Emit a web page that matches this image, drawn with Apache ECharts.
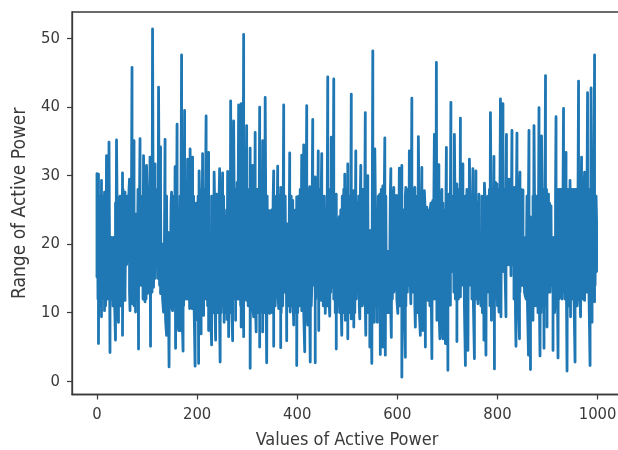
<!DOCTYPE html>
<html><head><meta charset="utf-8">
<style>html,body{margin:0;padding:0;background:#fff}#c{width:618px;height:450px}</style>
<script src="https://cdn.jsdelivr.net/npm/echarts@6/dist/echarts.min.js"></script>
</head><body><div id="c"></div>
<script>
const xTicks=[0,200,400,600,800,1000];
const yTicks=[0,10,20,30,40,50];
const xTitle='Values of Active Power';
const yTitle='Range of Active Power';
const peaksA=[[0,30.3],[3,30.2],[9,29.3],[15,27.6],[19,32.9],[24,34.9],[29,21],[33,21],[39,35.2],[44,26.8],[51,30.4],[56,27.6],[65,29.5],[70,45.8],[74,35.1],[79,24.4],[86,35.4],[93,32.9],[99,31.5],[106,32.7],[111,51.4],[116,31.7],[123,42.9],[127,34.2],[131,20],[136,35.3],[143,21.7],[149,27.6],[156,31.3],[160,37.5],[164,21.5],[169,47.6],[175,39.5],[181,32.4],[186,33.9],[191,32.7],[198,26],[204,30.7],[211,33.2],[218,38.7],[223,33.4],[227,17],[234,30.5],[239,27.3],[245,31],[251,30.4],[257,24],[261,30.6],[267,40.9],[273,38],[277,14],[283,40.3],[288,40.5],[293,50.6],[299,37.3],[306,34],[311,31.5],[316,36.3],[321,28],[325,40]];
const troughsA=[[0,15.2],[3,5.5],[9,9.4],[15,10.3],[18,12.3],[26,4.2],[33,11.8],[37,6],[43,8.6],[46,11.3],[51,6.7],[56,11.8],[61,18.8],[66,10.3],[71,11.3],[77,10.1],[83,4.7],[89,15.2],[96,11.6],[101,12.8],[107,5.1],[113,13.7],[119,17],[127,12.8],[133,10.1],[139,6.7],[144,2.1],[151,10.3],[157,4.8],[163,7.4],[167,7.4],[172,4.4],[178,11.8],[185,10.6],[190,10.6],[196,2.2],[203,2.6],[208,6.9],[213,9.6],[218,12.8],[223,7.4],[229,5.3],[237,6],[246,2.8],[254,8.6],[263,6.5],[271,5.9],[277,8.9],[283,12],[288,7.9],[293,6.5],[299,11.8],[306,1.9],[313,9.4],[318,7.2],[325,5]];
const peaksB=[[331,35.1],[336,41.4],[343,24.9],[347,24.9],[353,30.7],[361,31.4],[367,28.3],[373,40.3],[378,22],[385,33.3],[391,26.4],[394,24.9],[399,26.9],[409,33],[413,34.5],[419,40.2],[425,28.4],[431,38.2],[436,29.8],[442,33.6],[449,33.2],[456,17.4],[461,44.4],[468,35.6],[473,44.1],[478,27.3],[483,22.5],[488,24.7],[495,30.2],[501,31.7],[508,41.9],[513,27.8],[517,33.6],[523,25.6],[527,31.5],[531,28],[536,39.2],[541,30],[545,21.7],[551,48.2],[555,33.9],[559,18.6],[565,27.3],[571,28.5],[575,35.5],[581,18.6],[587,31],[593,28.3],[598,27.1],[604,31.1],[609,31.5],[613,24],[617,28.3],[624,33.6],[629,41.3],[635,28.3],[642,35.7],[649,31.2],[654,27.8],[659,25.4],[666,25.4],[671,26.4],[674,36],[678,46.5]];
const troughsB=[[331,7.2],[339,2.7],[345,9.9],[353,5.1],[358,18.3],[363,10.6],[367,4.9],[373,14],[379,5.9],[386,10.1],[393,8.2],[399,2.3],[405,11.6],[409,10.3],[415,4.3],[421,8.2],[426,2.8],[430,15.7],[436,2.7],[443,7.4],[448,11.8],[451,16.4],[456,9.9],[465,9.5],[469,13.7],[478,4.7],[485,10.3],[489,6.7],[496,8.9],[501,6.2],[508,9.1],[513,7.9],[519,15.2],[525,9.1],[531,11.3],[537,6.7],[545,5],[549,2.6],[554,8.6],[560,8.6],[566,3.9],[571,5],[576,3.8],[581,10.3],[588,6.4],[595,14.2],[601,9.9],[609,0.6],[616,3.5],[624,15.2],[627,11.3],[636,7.9],[646,6.7],[651,7.4],[656,5],[661,11.8],[669,3.3],[675,18.6],[679,8.9]];
const peaksC=[[683,31.6],[689,28],[694,24.9],[698,34.1],[703,27.3],[707,40.7],[714,36],[719,28.8],[726,38.4],[731,31.7],[737,23.2],[744,32.4],[751,31],[757,30.7],[763,27.3],[767,21],[774,28.9],[779,26.9],[786,39.2],[793,32.8],[799,28.8],[806,41.2],[811,40.5],[818,36],[823,29.5],[829,36.6],[834,28.3],[839,36.2],[845,30.5],[851,27.9],[857,20.5],[863,36.6],[867,23.9],[873,37.3],[878,24.9],[883,39.9],[888,35.8],[896,44.6],[902,27.3],[907,25.6],[911,20.5],[917,38.6],[923,27.6],[927,27.6],[932,39.8],[937,33.4],[945,29.3],[949,27.8],[957,28],[962,43.8],[968,32.7],[974,30.5],[980,42.1],[987,42.8],[994,47.6],[998,23.4]];
const troughsC=[[685,6.2],[687,8.6],[691,6.2],[696,5.5],[701,1.6],[706,11.1],[711,18.6],[719,5.8],[726,12.3],[729,20.5],[736,2.3],[741,4.5],[747,14],[754,3.3],[761,11.3],[768,11.3],[773,6],[777,3.8],[783,15.4],[788,8.9],[794,1.8],[803,10.1],[807,9.4],[811,21.5],[817,9.4],[823,18.3],[827,15.4],[833,19.1],[837,5.1],[844,6.2],[849,14.7],[856,12.3],[862,3.8],[866,1.7],[871,8.9],[876,11.6],[885,3.7],[893,4.8],[899,7.9],[904,14.2],[911,4.5],[916,12],[921,3.4],[927,12.3],[933,13.7],[939,1.5],[946,9.4],[949,12.3],[955,2.8],[960,12.8],[966,9.4],[974,11.8],[979,13.3],[985,2.3],[989,8.6],[994,11.6],[998,16.2]];
// Solid body of the band: top-side values at samples 1,4,7,... and bottom-side values at samples 2,5,8,...
const bodyHighs=[
26,27,25,26,27,26,27,26,20,20,20,20,26,27,26,27,26,28,26,27,
27,28,27,28,26,24,23,28,27,26,27,28,27,28,27,28,27,29,28,27,
28,28,27,19,19,27,27,21,21,26,26,27,28,28,20,27,28,28,28,27,
27,28,27,27,27,25,25,27,27,28,27,28,29,28,28,17,27,27,26,27,
27,27,28,27,27,24,25,27,28,28,28,27,28,29,29,28,27,28,29,28,
28,28,29,28,27,28,28,27,28,29,28,27,27,27,25,24,25,27,27,25,
27,27,26,27,28,27,23,22,27,27,26,25,25,26,27,28,28,27,28,28,
28,27,28,28,28,27,28,27,28,28,27,27,17,27,28,28,28,27,27,27,
23,24,25,27,28,28,28,27,27,27,26,27,28,26,27,27,27,26,27,27,
27,22,22,27,28,27,19,27,27,28,28,28,27,19,19,27,27,27,27,27,
27,28,27,24,25,27,28,28,27,27,28,28,27,27,28,27,27,26,26,25,
25,25,26,26,27,28,28,27,27,27,26,25,25,27,27,27,27,27,27,28,
28,27,27,24,23,27,28,27,27,27,27,27,27,26,21,21,27,27,27,26,
27,28,27,28,28,29,29,28,28,28,29,28,29,29,28,28,28,28,28,28,
27,28,28,25,20,21,27,27,24,24,27,27,27,27,28,28,28,28,28,28,
27,26,25,21,21,27,28,28,28,28,28,28,28,28,27,28,28,28,28,28,
28,28,27,28,28,28,28,28,28,28,28,27,27];
const bodyLows=[
12,11,11,12,12,11,12,12,12,12,11,12,12,11,11,11,11,12,13,17,
18,13,12,12,11,11,13,14,14,14,12,12,12,13,13,12,13,14,15,17,
15,14,13,12,11,9,10,10,11,11,11,11,10,10,10,10,10,11,12,12,
12,12,11,11,11,10,9,10,10,11,12,12,12,11,11,10,10,10,10,10,
10,9,10,11,11,10,9,10,10,11,12,12,12,12,12,11,11,11,12,12,
11,11,11,11,10,10,10,10,10,11,11,10,11,10,11,11,10,10,11,17,
12,11,10,11,13,13,11,11,11,11,11,10,10,10,11,11,11,10,10,11,
10,10,11,14,15,12,14,15,16,13,11,11,11,11,11,13,14,12,10,10,
11,10,10,10,10,10,10,11,10,11,11,10,12,14,11,11,11,12,11,10,
10,10,10,11,11,11,12,11,10,11,10,11,11,10,10,10,12,13,14,12,
11,11,11,10,11,11,13,14,14,14,13,11,10,10,10,10,11,11,12,13,
12,11,11,12,12,15,11,11,11,10,11,10,10,11,12,16,16,13,12,11,
12,13,16,14,11,10,11,14,14,12,11,12,12,12,12,11,10,10,12,14,
13,11,11,11,12,12,11,11,17,17,16,17,17,17,17,17,17,12,10,11,
11,13,14,14,13,12,11,11,11,11,11,11,11,10,10,10,11,11,11,12,
13,13,14,11,10,11,12,12,13,12,13,12,11,11,11,12,12,12,11,11,
12,12,12,12,12,13,13,12,12,13,13,14,16];
const bodyPoints=[...bodyHighs.map((v,k)=>[1+3*k,v]),...bodyLows.map((v,k)=>[2+3*k,v])];
const points=[...peaksA,...troughsA,...peaksB,...troughsB,...peaksC,...troughsC,...bodyPoints].sort((a,b)=>a[0]-b[0]);
const ink='#3a3a3a';
const font='"DejaVu Sans Condensed","DejaVu Sans"';
const chart=echarts.init(document.getElementById('c'),null,{renderer:'canvas'});
const plain=v=>String(v);
chart.setOption({
 animation:false,
 backgroundColor:'#fff',
 grid:{left:72,top:12,right:-4,bottom:55.5,outerBoundsMode:'none',show:true,borderColor:ink,borderWidth:1.3,backgroundColor:'transparent'},
 xAxis:{type:'value',min:-49.9,max:1048.8,name:xTitle,nameLocation:'middle',nameGap:37,
  nameTextStyle:{fontFamily:font,fontSize:18,color:ink},
  splitLine:{show:false},axisLine:{show:true,onZero:false,lineStyle:{color:ink,width:1.3}},
  axisTick:{show:true,length:5,customValues:xTicks,lineStyle:{color:ink,width:1.2}},
  axisLabel:{customValues:xTicks,formatter:plain,margin:12,fontFamily:font,fontSize:16.5,color:ink}},
 yAxis:{type:'value',min:-1.93,max:53.87,name:yTitle,nameLocation:'middle',nameGap:42,
  nameTextStyle:{fontFamily:font,fontSize:19,color:ink},
  splitLine:{show:false},axisLine:{show:true,onZero:false,lineStyle:{color:ink,width:1.3}},
  axisTick:{show:true,length:5,customValues:yTicks,lineStyle:{color:ink,width:1.2}},
  axisLabel:{customValues:yTicks,formatter:plain,margin:12,fontFamily:font,fontSize:16.5,color:ink}},
 series:[{type:'line',data:points,showSymbol:false,symbol:'none',smooth:false,sampling:null,
  lineStyle:{color:'#1f77b4',width:2.8,join:'round',cap:'round'}}]
});
</script></body></html>
